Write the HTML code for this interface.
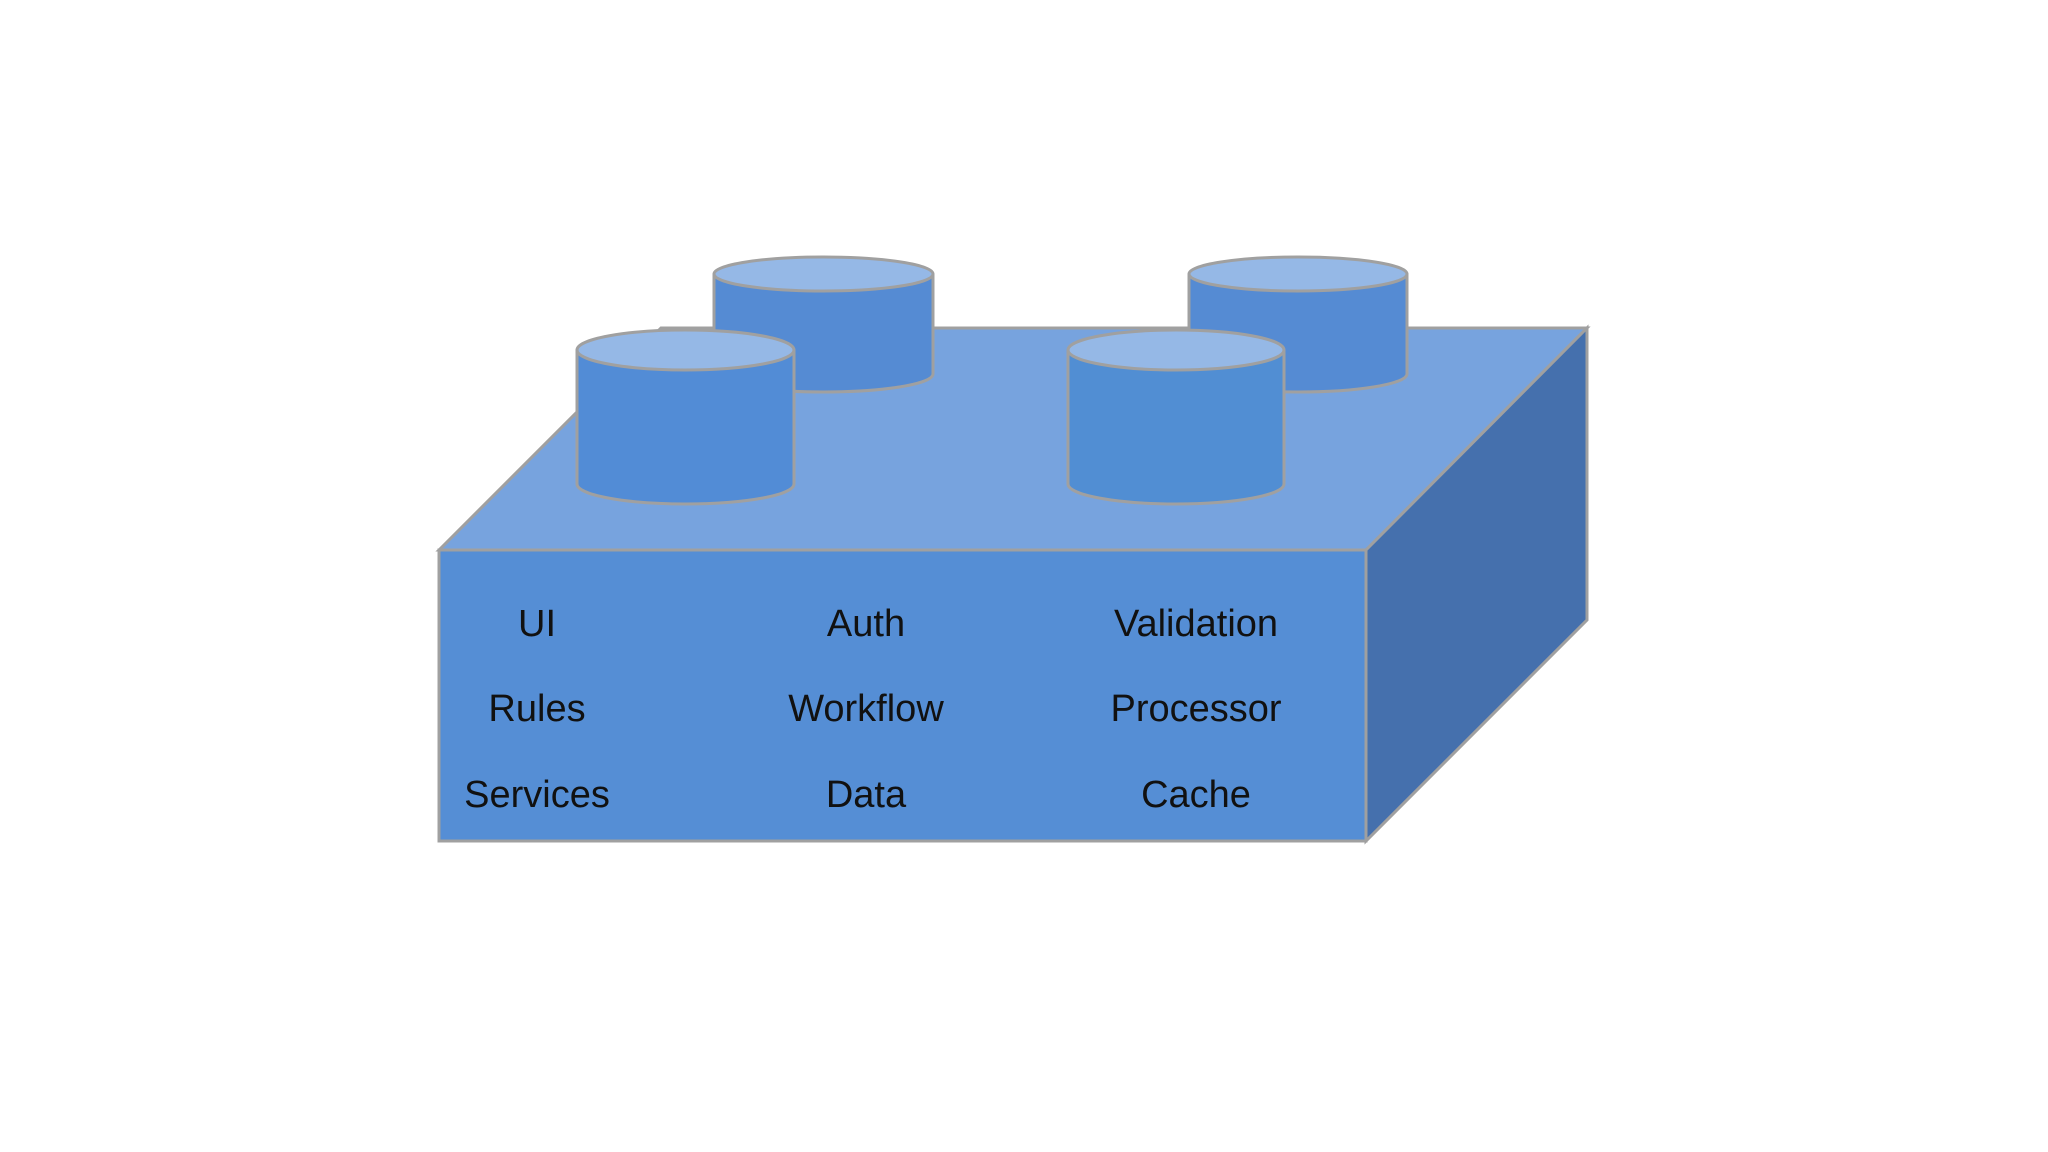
<!DOCTYPE html>
<html><head><meta charset="utf-8"><style>
html,body{margin:0;padding:0;background:#fff;width:2048px;height:1152px;overflow:hidden}
svg{display:block}
text{font-family:"Liberation Sans",sans-serif;font-size:38px;fill:#111;text-anchor:middle}
</style></head><body>
<svg width="2048" height="1152" viewBox="0 0 2048 1152">
<g stroke="#a0a0a0" stroke-width="3">
<polygon points="439,550 661,328 1587,328 1366,550" fill="#77a3de"/>
<polygon points="1366,550 1587,328 1587,620 1366,841" fill="#4570ad"/>
<rect x="439" y="550" width="927" height="291" fill="#558ed5"/>
<!-- back cylinders -->
<path d="M714,274 V374 A109.5,18 0 0 0 933,374 V274" fill="#558bd3"/>
<ellipse cx="823.5" cy="274" rx="109.5" ry="17" fill="#95b8e6"/>
<path d="M1189,274 V374 A109,18 0 0 0 1407,374 V274" fill="#558bd3"/>
<ellipse cx="1298" cy="274" rx="109" ry="17" fill="#95b8e6"/>
<!-- front cylinders -->
<path d="M577,350 V484 A108.5,20 0 0 0 794,484 V350" fill="#528cd6"/>
<ellipse cx="685.5" cy="350" rx="108.5" ry="20" fill="#95b8e6"/>
<path d="M1068,350 V484 A108,20 0 0 0 1284,484 V350" fill="#518ed3"/>
<ellipse cx="1176" cy="350" rx="108" ry="20" fill="#95b8e6"/>
</g>
<text x="537" y="636">UI</text>
<text x="866" y="636">Auth</text>
<text x="1196" y="636">Validation</text>
<text x="537" y="721">Rules</text>
<text x="866" y="721">Workflow</text>
<text x="1196" y="721">Processor</text>
<text x="537" y="807">Services</text>
<text x="866" y="807">Data</text>
<text x="1196" y="807">Cache</text>
</svg>
</body></html>
